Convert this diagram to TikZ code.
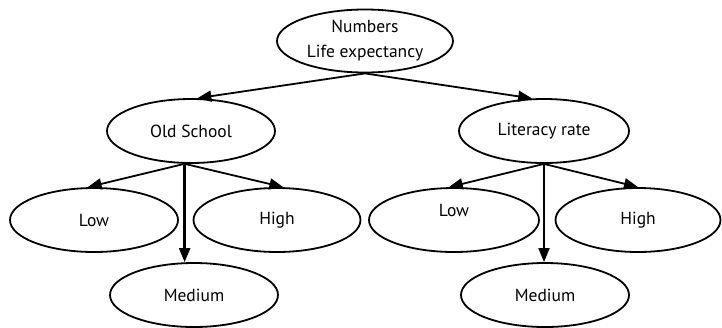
\documentclass[tikz,border=0pt]{standalone}
\usepackage{fontspec}
\setmainfont{PT Sans}
\usetikzlibrary{shapes.geometric, arrows.meta}

\begin{document}
\begin{tikzpicture}[x=1pt,y=-1pt,
  oval/.style={ellipse, draw, line width=1.8pt, minimum width=168pt, minimum height=64pt,
    inner sep=0pt, font=\fontsize{17.5}{25}\selectfont},
  branch/.style={line width=1.8pt, -{Triangle[length=14pt,width=11pt]}}]
\useasboundingbox (0,0) rectangle (722,327);

% root and the two attributes
\node[oval, minimum width=176pt, minimum height=63pt, align=center] (numbers) at (365,41) {Numbers\\Life expectancy};
\node[oval] (oldschool) at (191,131) {Old School};
\node[oval, minimum width=170pt] (literacy) at (544,131) {Literacy rate};

% left subtree
\node[oval] (lowL) at (94,220) {Low};
\node[oval, minimum width=167pt] (highL) at (277,220) {High};
\node[oval] (medL) at (194,295) {Medium};

% right subtree
\node[oval, minimum width=170pt, text depth=20pt] (lowR) at (454,220) {Low};
\node[oval, minimum width=165pt] (highR) at (638,220) {High};
\node[oval] (medR) at (545,295) {Medium};

\draw[branch] (numbers.south) -- (oldschool.79);
\draw[branch] (numbers.south) -- (literacy.110);

\draw[branch] (oldschool.259) -- (lowL.101);
\draw[branch] (oldschool.259) -- (highL.79);
\draw[branch, line width=2.4pt] (oldschool.259) -- (oldschool.259 |- medL.north);

\draw[branch] (literacy.south) -- (lowR.99);
\draw[branch] (literacy.south) -- (highR.north);
\draw[branch] (literacy.south) -- (literacy.south |- medR.north);
\end{tikzpicture}
\end{document}
